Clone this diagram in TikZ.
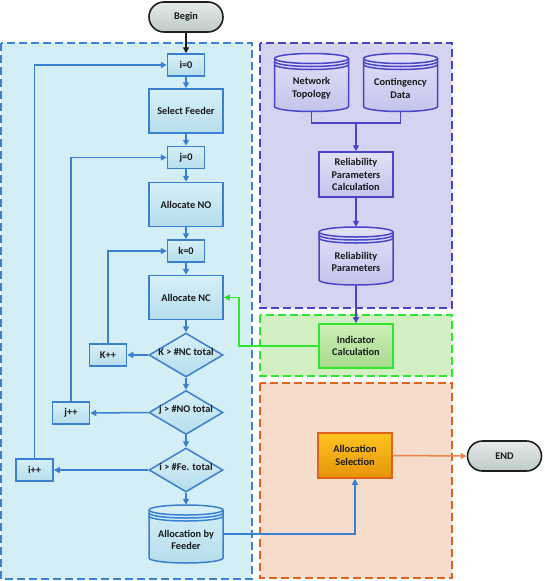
\documentclass[tikz,border=0pt]{standalone}
\usepackage{fontspec}
\setmainfont{Carlito}
\usetikzlibrary{shapes.geometric,arrows.meta}
\definecolor{txt}{HTML}{1A1A1A}
\definecolor{bline}{HTML}{3A80D2}
\definecolor{bfA}{HTML}{D6F0F8}
\definecolor{bfB}{HTML}{B6DDEC}
\definecolor{bpan}{HTML}{3C82D8}
\definecolor{bpanfill}{HTML}{D3EEF4}
\definecolor{pline}{HTML}{4A44C6}
\definecolor{pfA}{HTML}{E0E0F8}
\definecolor{pfB}{HTML}{C4C4EC}
\definecolor{ppanfill}{HTML}{D4D4F0}
\definecolor{gline}{HTML}{2EE62E}
\definecolor{gfA}{HTML}{CDEFB8}
\definecolor{gfB}{HTML}{A6DA8C}
\definecolor{gpanfill}{HTML}{D2EFC4}
\definecolor{oline}{HTML}{E0621C}
\definecolor{oarrow}{HTML}{EF8448}
\definecolor{ofA}{HTML}{FCC420}
\definecolor{ofB}{HTML}{E6940A}
\definecolor{opanfill}{HTML}{F5DCCB}
\definecolor{tA}{HTML}{E4EAE8}
\definecolor{tB}{HTML}{BFCBC7}
\newcommand\dbcyl[7]{%
  \path[draw=#4, line width=1.5pt, top color=#5, bottom color=#6]
    (#2-37,#3+24) -- (#2-37,#3-24)
    arc[start angle=180,end angle=360,x radius=37,y radius=5]
    -- (#2+37,#3+24)
    arc[start angle=0,end angle=180,x radius=37,y radius=5] -- cycle;
  \draw[#4, line width=1.5pt] (#2-37,#3+24) arc[start angle=180,end angle=360,x radius=37,y radius=5];
  \draw[#4, line width=1.5pt] (#2-37,#3+21) arc[start angle=180,end angle=360,x radius=37,y radius=5];
  \draw[#4, line width=1.5pt] (#2-37,#3+18) arc[start angle=180,end angle=360,x radius=37,y radius=5];
  \node[minimum width=74pt, minimum height=58pt, inner sep=0pt] (#1) at (#2,#3) {};
  \node (#1-t) at (#2,#3-6) {#7};
}
\begin{document}
\begin{tikzpicture}[x=1pt,y=1pt,
  every node/.style={font=\fontsize{10.3}{12.6}\selectfont\bfseries, text=txt, align=center},
  bbox/.style={draw=bline, line width=1.5pt, top color=bfA, bottom color=bfB, minimum width=74pt, minimum height=44pt, inner sep=1pt},
  sbox/.style={bbox, minimum width=37pt, minimum height=22pt},
  dia/.style={diamond, draw=bline, line width=1.5pt, top color=bfA, bottom color=bfB, minimum width=74pt, minimum height=44pt, inner sep=0pt, aspect=1.68},
  pbox/.style={draw=pline, line width=1.5pt, top color=pfA, bottom color=pfB, minimum width=74pt, minimum height=45pt, inner sep=1pt},
  term/.style={draw=black!88, line width=1.6pt, top color=tA, bottom color=tB, rounded corners=15pt, minimum width=74pt, minimum height=30pt},
  tip/.style={-{Triangle[length=6pt,width=6pt]}},
  barrow/.style={draw=bline, line width=1.5pt, tip},
  parrow/.style={draw=pline, line width=1.5pt, tip},
  panel/.style={dash pattern=on 8pt off 4pt, line width=1.4pt}
]
\useasboundingbox (0,0) rectangle (545,-581);
% panels
\path[panel, draw=bpan, fill=bpanfill] (1,-43) rectangle (252,-579);
\path[panel, draw=pline, fill=ppanfill] (260,-43) rectangle (452,-308);
\path[panel, draw=gline, fill=gpanfill] (260,-315) rectangle (452,-376);
\path[panel, draw=oline, fill=opanfill] (260,-383) rectangle (452,-578);
% terminals
\node[term] (begin) at (186,-17) {Begin};
\node[term] (end) at (504.5,-456) {END};
% left column
\node[sbox] (i0) at (186,-65) {i=0};
\node[bbox] (sf) at (186,-111) {Select Feeder};
\node[sbox] (j0) at (186,-157.5) {j=0};
\node[bbox] (ano) at (186,-204.5) {Allocate NO};
\node[sbox] (k0) at (186,-251) {k=0};
\node[bbox] (anc) at (186,-297.5) {Allocate NC};
\node[dia] (d1) at (186,-355) {\smash{\makebox[0pt]{K > \#NC total}}};
\node[dia] (d2) at (186,-412.5) {\smash{\makebox[0pt]{j > \#NO total}}};
\node[dia] (d3) at (186,-470) {\smash{\makebox[0pt]{i > \#Fe. total}}};
\node[sbox] (kpp) at (108,-355) {K++};
\node[sbox] (jpp) at (71,-413) {j++};
\node[sbox] (ipp) at (34.5,-470) {i++};
\dbcyl{abf}{186}{-534}{bline}{bfA}{bfB}{Allocation by\\Feeder}
% right column
\dbcyl{nt}{311.5}{-82.5}{pline}{pfA}{pfB}{Network\\Topology}
\dbcyl{cd}{400.5}{-82.5}{pline}{pfA}{pfB}{Contingency\\Data}
\node[pbox] (rpc) at (356,-174.5) {Reliability\\Parameters\\Calculation};
\dbcyl{rp}{356}{-256}{pline}{pfA}{pfB}{Reliability\\Parameters}
\node[draw=gline, line width=1.6pt, top color=gfA, bottom color=gfB, minimum width=74pt, minimum height=44pt, inner sep=1pt] (ic) at (356,-346) {Indicator\\Calculation};
\node[draw=oline, line width=1.5pt, top color=ofA, bottom color=ofB, minimum width=74pt, minimum height=45pt, inner sep=1pt] (as) at (355,-455.5) {Allocation\\Selection};
\coordinate (jn) at (356,-123);
% connectors
\draw[line width=1.6pt, black!90, tip] (begin) -- (i0);
\draw[barrow] (i0) -- (sf);
\draw[barrow] (sf) -- (j0);
\draw[barrow] (j0) -- (ano);
\draw[barrow] (ano) -- (k0);
\draw[barrow] (k0) -- (anc);
\draw[barrow] (anc) -- (d1);
\draw[barrow] (d1) -- (d2);
\draw[barrow] (d2) -- (d3);
\draw[barrow] (d3.south) -- (abf.north);
\draw[barrow] (d1.west) -- (kpp.east);
\draw[barrow] (d2.west) -- (jpp.east);
\draw[barrow] (d3.west) -- (ipp.east);
\draw[barrow] (kpp.north) |- (k0.west);
\draw[barrow] (jpp.north) |- (j0.west);
\draw[barrow] (ipp.north) |- (i0.west);
\draw[pline, line width=1.5pt] (nt.south) |- (jn) -| (cd.south);
\draw[parrow] (jn) -- (rpc.north);
\draw[parrow] (rpc) -- (rp.north);
\draw[parrow] (rp.south) -- (ic.north);
\draw[draw=gline, line width=1.5pt, tip] (ic.west) -- ++(-79,0) |- (anc.east);
\draw[barrow] (abf.east) -| (as.south);
\draw[draw=oarrow, line width=1.5pt, tip] (as.east) -- (end.west);
\end{tikzpicture}
\end{document}
